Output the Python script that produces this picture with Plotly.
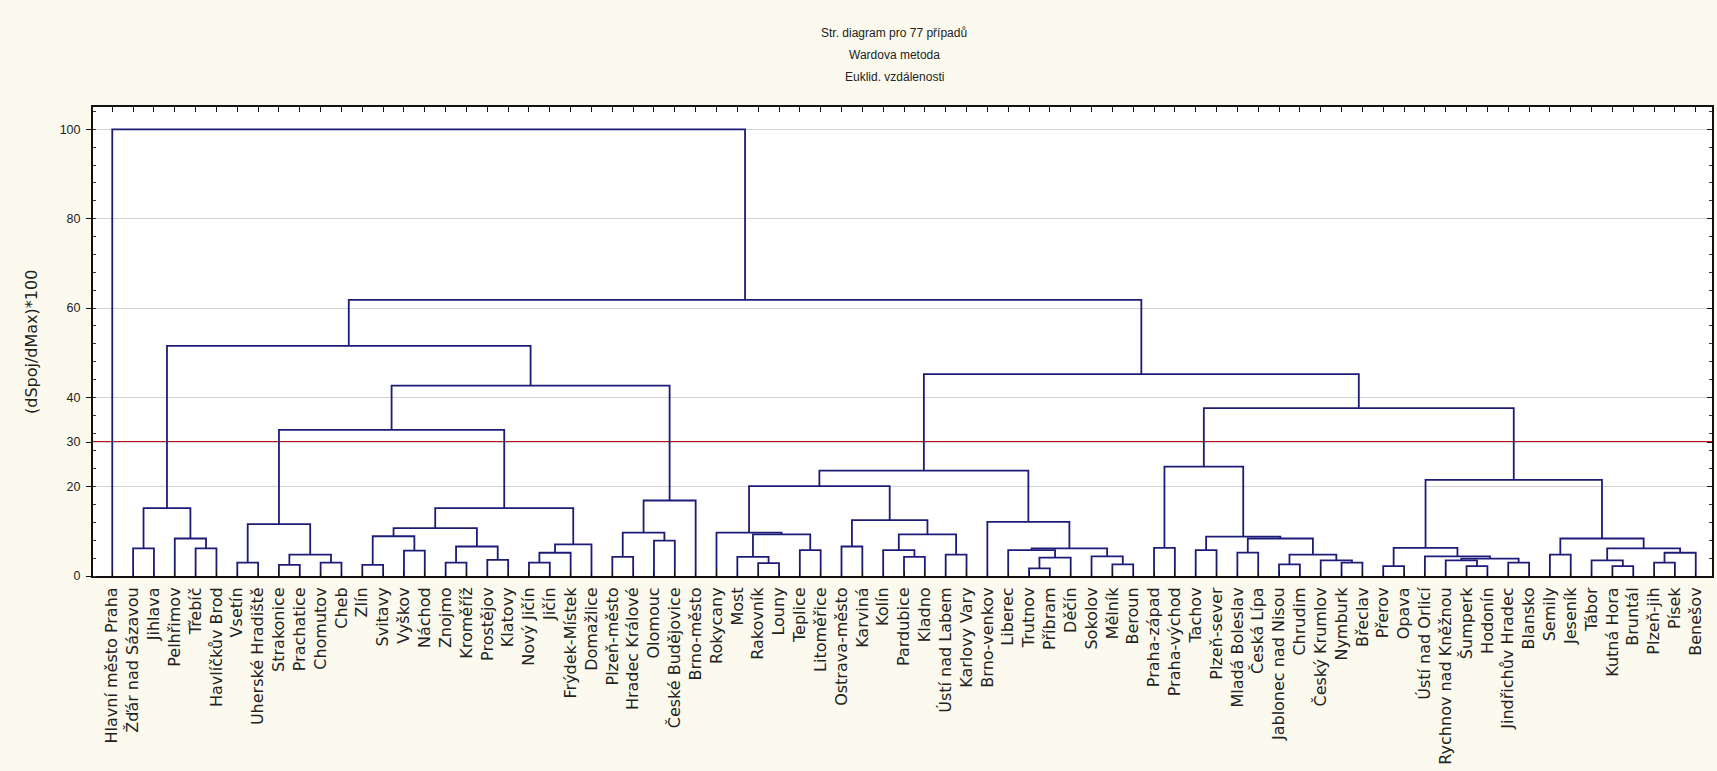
import plotly.graph_objects as go

# Districts in dendrogram order (left to right)
leaf_labels = [
    "Hlavní město Praha", "Žďár nad Sázavou", "Jihlava", "Pelhřimov", "Třebíč",
    "Havlíčkův Brod", "Vsetín", "Uherské Hradiště", "Strakonice", "Prachatice",
    "Chomutov", "Cheb", "Zlín", "Svitavy", "Vyškov", "Náchod", "Znojmo",
    "Kroměříž", "Prostějov", "Klatovy", "Nový Jičín", "Jičín", "Frýdek-Místek",
    "Domažlice", "Plzeň-město", "Hradec Králové", "Olomouc", "České Budějovice",
    "Brno-město", "Rokycany", "Most", "Rakovník", "Louny", "Teplice",
    "Litoměřice", "Ostrava-město", "Karviná", "Kolín", "Pardubice", "Kladno",
    "Ústí nad Labem", "Karlovy Vary", "Brno-venkov", "Liberec", "Trutnov",
    "Příbram", "Děčín", "Sokolov", "Mělník", "Beroun", "Praha-západ",
    "Praha-východ", "Tachov", "Plzeň-sever", "Mladá Boleslav", "Česká Lípa",
    "Jablonec nad Nisou", "Chrudim", "Český Krumlov", "Nymburk", "Břeclav",
    "Přerov", "Opava", "Ústí nad Orlicí", "Rychnov nad Kněžnou", "Šumperk",
    "Hodonín", "Jindřichův Hradec", "Blansko", "Semily", "Jeseník", "Tábor",
    "Kutná Hora", "Bruntál", "Plzeň-jih", "Písek", "Benešov",
]

# Linkage table: row k joins merge_left[k] and merge_right[k] at merge_height[k].
# A string refers to a district, an integer to an earlier row of the table.
merge_left = [
    "Žďár nad Sázavou", "Třebíč", "Pelhřimov", 0,
    "Vsetín", "Strakonice", "Chomutov", 5, 4,
    "Zlín", "Vyškov", 9, "Znojmo", "Prostějov", 12, 11, "Nový Jičín", 16, 17, 15,
    8,
    "Plzeň-město", "Olomouc", 21, 23,
    20, 3,
    "Rakovník", "Most", "Teplice", 28, "Rokycany",
    "Ostrava-město", "Pardubice", "Kolín", "Ústí nad Labem", 34, 32, 31,
    "Trutnov", 39, "Liberec", "Mělník", "Sokolov", 41, "Brno-venkov", 38,
    "Praha-západ", "Tachov", "Mladá Boleslav", "Jablonec nad Nisou", "Nymburk",
    "Český Krumlov", 50, 49, 48, 47,
    "Přerov", "Šumperk", "Rychnov nad Kněžnou", "Jindřichův Hradec", 59,
    "Ústí nad Orlicí", 57,
    "Semily", "Kutná Hora", "Tábor", "Plzeň-jih", 67, 66, 64, 63,
    56, 46, 26, "Hlavní město Praha",
]
merge_right = [
    "Jihlava", "Havlíčkův Brod", 1, 2,
    "Uherské Hradiště", "Prachatice", "Cheb", 6, 7,
    "Svitavy", "Náchod", 10, "Kroměříž", "Klatovy", 13, 14, "Jičín",
    "Frýdek-Místek", "Domažlice", 18,
    19,
    "Hradec Králové", "České Budějovice", 22, "Brno-město",
    24, 25,
    "Louny", 27, "Litoměřice", 29, 30,
    "Karviná", "Kladno", 33, "Karlovy Vary", 35, 36, 37,
    "Příbram", "Děčín", 40, "Beroun", 42, 43, 44, 45,
    "Praha-východ", "Plzeň-sever", "Česká Lípa", "Chrudim", "Břeclav",
    51, 52, 53, 54, 55,
    "Opava", "Hodonín", 58, "Blansko", 60, 61, 62,
    "Jeseník", "Bruntál", 65, "Písek", "Benešov", 68, 69, 70,
    71, 72, 73, 74,
]
merge_height = [
    6.2, 6.2, 8.4, 15.2,
    3.0, 2.5, 3.0, 4.8, 11.6,
    2.5, 5.7, 8.9, 3.0, 3.6, 6.6, 10.7, 3.0, 5.2, 7.1, 15.2,
    32.7,
    4.3, 7.9, 9.7, 16.9,
    42.6, 51.5,
    2.9, 4.3, 5.8, 9.3, 9.7,
    6.6, 4.3, 5.8, 4.8, 9.3, 12.5, 20.1,
    1.7, 4.1, 5.8, 2.6, 4.4, 6.2, 12.1, 23.6,
    6.3, 5.8, 5.25, 2.6, 3.0, 3.5, 4.8, 8.4, 8.8, 24.5,
    2.2, 2.2, 3.5, 3.0, 3.9, 4.4, 6.3,
    4.8, 2.2, 3.5, 3.0, 5.2, 6.2, 8.4, 21.5,
    37.6, 45.2, 61.8, 100.0,
]

cut_level = 30
y_tick_values = [0, 20, 30, 40, 60, 80, 100]
title_lines = ["Str. diagram pro 77 případů", "Wardova metoda", "Euklid. vzdálenosti"]
y_title = "(dSpoj/dMax)*100"

# ---- build the bracket paths from the linkage table ----
leaf_pos = {name: i + 1 for i, name in enumerate(leaf_labels)}
node_x, node_h = [], []


def locate(ref):
    if isinstance(ref, str):
        return leaf_pos[ref], 0.0
    return node_x[ref], node_h[ref]


xs, ys = [], []
for a, b, h in zip(merge_left, merge_right, merge_height):
    xa, ha = locate(a)
    xb, hb = locate(b)
    xs += [xa, xa, xb, xb, None]
    ys += [ha, h, h, hb, None]
    node_x.append((xa + xb) / 2)
    node_h.append(h)

LINE = "#1c1c78"
FRAME = "#111111"
TEXT = "#222222"

fig = go.Figure()
fig.add_trace(go.Scatter(
    x=xs, y=ys, mode="lines",
    line=dict(color=LINE, width=1.8),
    hoverinfo="skip", showlegend=False,
))
# carries the right-hand tick marks
fig.add_trace(go.Scatter(x=[], y=[], yaxis="y2", showlegend=False, hoverinfo="skip"))

fig.add_shape(
    type="line", xref="paper", x0=0, x1=1, yref="y", y0=cut_level, y1=cut_level,
    line=dict(color="#c4101e", width=2), layer="between",
)

for i, line in enumerate(title_lines):
    fig.add_annotation(
        text=line, xref="paper", yref="paper", x=0.495, y=1.158 - i * 0.047,
        xanchor="center", yanchor="middle", showarrow=False,
        font=dict(family="Liberation Sans, Arial", size=12, color=TEXT),
    )
fig.add_annotation(
    text=y_title, xref="paper", yref="paper", x=-0.038, y=0.5,
    xanchor="center", yanchor="middle", textangle=-90, showarrow=False,
    font=dict(family="DejaVu Sans", size=16, color=TEXT),
)

fig.update_layout(
    width=1717, height=771, autosize=False,
    margin=dict(l=93, r=3, t=107, b=195),
    paper_bgcolor="#fcfaee", plot_bgcolor="#ffffff",
    xaxis=dict(
        range=[0.075, 77.78], tickmode="array",
        tickvals=list(range(1, len(leaf_labels) + 1)), ticktext=leaf_labels,
        tickangle=-90, ticks="inside", ticklen=5, tickcolor=FRAME,
        showline=True, linecolor=FRAME, linewidth=2, mirror="ticks",
        showgrid=False, zeroline=False, ticklabelstandoff=3,
        tickfont=dict(family="DejaVu Sans", size=16, color=TEXT),
    ),
    yaxis=dict(
        range=[0, 105], tickmode="array", tickvals=y_tick_values,
        ticks="outside", ticklen=5, tickcolor=FRAME,
        showline=True, linecolor=FRAME, linewidth=2, mirror=True,
        showgrid=True, gridcolor="#d2d2d2", gridwidth=1, zeroline=False,
        ticklabelstandoff=3,
        tickfont=dict(family="Liberation Sans, Arial", size=12.5, color=TEXT),
        minor=dict(tickmode="linear", tick0=0, dtick=4, ticks="inside",
                   ticklen=3, tickcolor="#333333", showgrid=False),
    ),
    yaxis2=dict(
        range=[0, 105], overlaying="y", side="right", tickmode="array",
        tickvals=y_tick_values, ticks="inside", ticklen=5, tickcolor=FRAME,
        showticklabels=False, showgrid=False, zeroline=False, showline=False,
        minor=dict(tickmode="linear", tick0=0, dtick=4, ticks="inside",
                   ticklen=3, tickcolor="#333333", showgrid=False),
    ),
)

fig.write_html("out.html")
